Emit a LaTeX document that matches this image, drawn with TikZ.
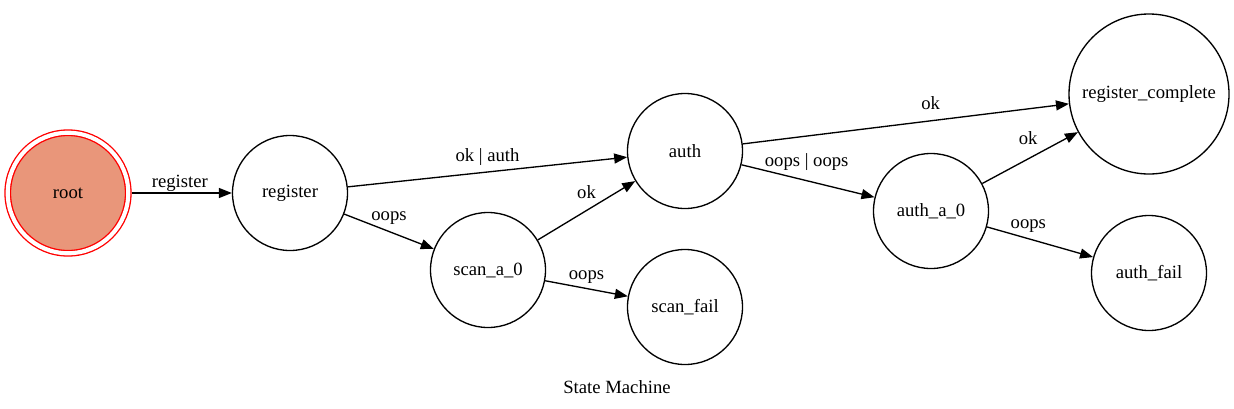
\documentclass[tikz,border=0pt]{standalone}
\usepackage{fontspec}
\setmainfont{Liberation Serif}
\usetikzlibrary{arrows.meta}
\tikzset{>={Triangle[length=9.75pt,width=7.5pt]}}
\definecolor{rootfill}{RGB}{233,150,122}
\tikzset{
  state/.style={circle,draw,line width=1pt,minimum size=86.25pt,inner sep=0pt,font=\fontsize{14}{17}\selectfont},
  lbl/.style={anchor=base,inner sep=0pt,font=\fontsize{14}{17}\selectfont},
  trans/.style={->,line width=1pt},
}

\begin{document}
\begin{tikzpicture}[x=0.75pt,y=-0.75pt]
\useasboundingbox (0,0) rectangle (1234,408);
% states
\node [state,draw=red,fill=rootfill,double=white,double distance=3.1pt,minimum size=90.4pt,outer sep=2.6pt] (root) at (68,193) {root};
\node [state] (register) at (290,193) {register};
\node [state] (scanA) at (488,270) {scan\_a\_0};
\node [state] (auth) at (685,151) {auth};
\node [state] (scanFail) at (685,307) {scan\_fail};
\node [state] (authA) at (931,211) {auth\_a\_0};
\node [state,minimum size=120pt] (regComplete) at (1149,94) {register\_complete};
\node [state] (authFail) at (1149,273) {auth\_fail};
% transitions
\draw [trans] (root) -- node[lbl,pos=0.48,yshift=4.1pt] (lRegister) {register} (register);
\draw [trans] (register) -- node[lbl,pos=0.5,yshift=8.25pt] (lOkAuth) {ok | auth} (auth);
\draw [trans] (register) -- node[lbl,pos=0.5,yshift=7.9pt] (lOopsA) {oops} (scanA);
\draw [trans] (scanA) -- node[lbl,pos=0.5,yshift=9pt] (lOkA) {ok} (auth);
\draw [trans] (scanA) -- node[lbl,pos=0.5,yshift=6.5pt] (lOopsB) {oops} (scanFail);
\draw [trans] (auth) -- node[lbl,pos=0.576,yshift=8.25pt] (lOkB) {ok} (regComplete);
\draw [trans] (auth) -- node[lbl,pos=0.49,yshift=10.5pt] (lOopsOops) {oops | oops} (authA);
\draw [trans] (authA) -- node[lbl,pos=0.48,yshift=10.5pt] (lOkC) {ok} (regComplete);
\draw [trans] (authA) -- node[lbl,pos=0.39,yshift=7.5pt] (lOopsC) {oops} (authFail);
% title
\node [lbl] (title) at (617,393) {State Machine};
\end{tikzpicture}
\end{document}
